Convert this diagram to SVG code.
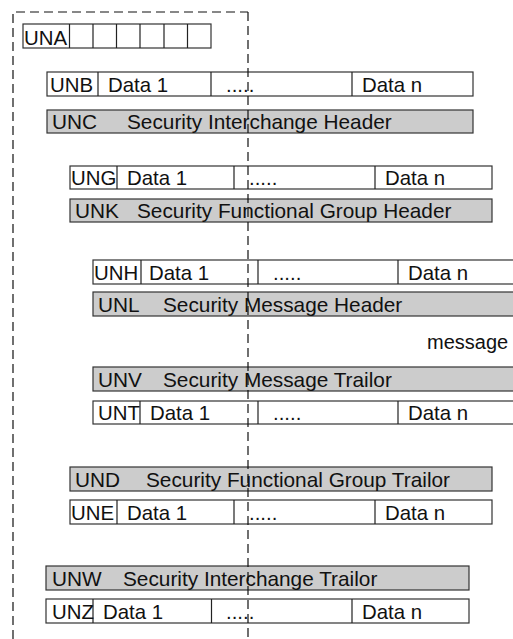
<svg xmlns="http://www.w3.org/2000/svg" width="513" height="639" viewBox="0 0 513 639">
<style>
.box{fill:#ffffff;stroke:#333333;stroke-width:1.2}
.hdr{fill:#cccccc;stroke:#333333;stroke-width:1.2}
.div{stroke:#222222;stroke-width:1.2}
.dash{fill:none;stroke:#111111;stroke-width:1.2;stroke-dasharray:9 5}
text{font-family:"Liberation Sans",Arial,Helvetica,sans-serif;font-size:20.4px;fill:#111111}
text.h{font-size:20.8px}
text.m{font-size:20px}
</style>
<rect width="513" height="639" fill="#ffffff"/>

<g id="UNA">
<rect class="box" x="23" y="24" width="188" height="24"/>
<path class="div" d="M69.5 24V48M93 24V48M116.5 24V48M140 24V48M164 24V48M187.5 24V48"/>
<text x="24" y="45">UNA</text>
</g>

<g id="UNB">
<rect class="box" x="47" y="72" width="426" height="24"/>
<path class="div" d="M98 72V96M211 72V96M352 72V96"/>
<text x="50" y="92">UNB</text>
<text x="108" y="92">Data 1</text>
<text x="226" y="92">.....</text>
<text x="362" y="92">Data n</text>
</g>

<g id="UNC">
<rect class="hdr" x="47" y="110" width="426" height="23"/>
<text class="h" y="129"><tspan x="52">UNC</tspan><tspan x="127">Security Interchange Header</tspan></text>
</g>

<g id="UNG">
<rect class="box" x="70" y="166" width="422" height="23"/>
<path class="div" d="M117 166V189M234 166V189M375 166V189"/>
<text x="71" y="185">UNG</text>
<text x="127" y="185">Data 1</text>
<text x="249" y="185">.....</text>
<text x="385" y="185">Data n</text>
</g>

<g id="UNK">
<rect class="hdr" x="70" y="199" width="422" height="23"/>
<text class="h" y="218"><tspan x="75">UNK</tspan><tspan x="137">Security Functional Group Header</tspan></text>
</g>

<g id="UNH">
<rect class="box" x="93" y="260" width="430" height="24"/>
<path class="div" d="M141 260V284M258 260V284M398 260V284"/>
<text x="94" y="280">UNH</text>
<text x="149" y="280">Data 1</text>
<text x="273" y="280">.....</text>
<text x="408" y="280">Data n</text>
</g>

<g id="UNL">
<rect class="hdr" x="93" y="292" width="430" height="24"/>
<text class="h" y="312"><tspan x="98">UNL</tspan><tspan x="163">Security Message Header</tspan></text>
</g>

<g id="message">
<text class="m" x="427" y="349">message</text>
</g>

<g id="UNV">
<rect class="hdr" x="93" y="367" width="430" height="24"/>
<text class="h" y="387"><tspan x="98">UNV</tspan><tspan x="163">Security Message Trailor</tspan></text>
</g>

<g id="UNT">
<rect class="box" x="93" y="401" width="430" height="23"/>
<path class="div" d="M140 401V424M258 401V424M398 401V424"/>
<text x="98" y="420">UNT</text>
<text x="150" y="420">Data 1</text>
<text x="273" y="420">.....</text>
<text x="408" y="420">Data n</text>
</g>

<g id="UND">
<rect class="hdr" x="70" y="467" width="422" height="24"/>
<text class="h" y="487"><tspan x="75">UND</tspan><tspan x="146">Security Functional Group Trailor</tspan></text>
</g>

<g id="UNE">
<rect class="box" x="70" y="500" width="422" height="24"/>
<path class="div" d="M117 500V524M234 500V524M375 500V524"/>
<text x="71" y="520">UNE</text>
<text x="127" y="520">Data 1</text>
<text x="249" y="520">.....</text>
<text x="385" y="520">Data n</text>
</g>

<g id="UNW">
<rect class="hdr" x="46" y="566" width="423" height="24"/>
<text class="h" y="586"><tspan x="52">UNW</tspan><tspan x="123">Security Interchange Trailor</tspan></text>
</g>

<g id="UNZ">
<rect class="box" x="46" y="599" width="423" height="24"/>
<path class="div" d="M93 599V623M211.5 599V623M352 599V623"/>
<text x="52" y="619">UNZ</text>
<text x="103" y="619">Data 1</text>
<text x="226" y="619">.....</text>
<text x="362" y="619">Data n</text>
</g>

<g id="connectors">
<path class="dash" d="M13 639V12H248"/>
<path class="dash" d="M248 12V639"/>
</g>
</svg>
